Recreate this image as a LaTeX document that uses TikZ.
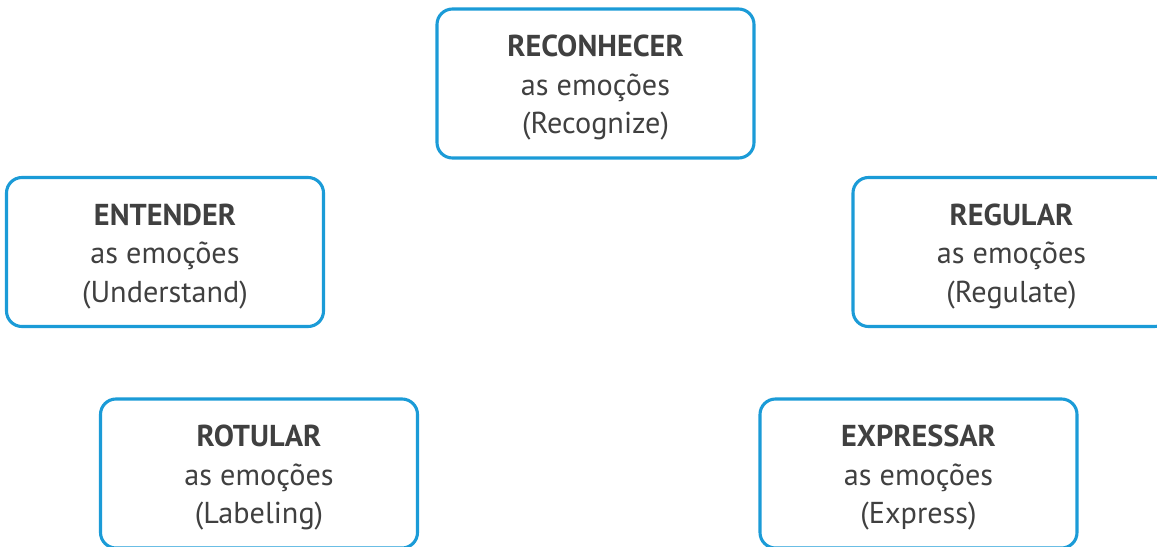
\documentclass[tikz,border=0pt]{standalone}
\usepackage{fontspec}
\setmainfont{PT Sans}
\usepackage{xcolor}
\definecolor{boxblue}{HTML}{1B9BD7}
\definecolor{txtgray}{HTML}{404040}
% bold title line, with a strut so the three lines sit a bit lower in the box
\newcommand{\emohead}[1]{\rule{0pt}{21.5pt}\textbf{#1}}

\begin{document}
\begin{tikzpicture}[
                x=0.025cm, y=-0.025cm,
                emo/.style={draw=boxblue, line width=2.2pt, rounded corners=11pt,
                    minimum width=317*0.025cm, minimum height=149*0.025cm,
                    align=center, text=txtgray, inner sep=0pt,
                    font=\fontsize{21.5}{27.5}\selectfont}
            ]
                \useasboundingbox (0,0) rectangle (1157,546);
                \clip (0,0) rectangle (1157,546);

                \node[emo] (rec) at (595.5,83.5)  {\emohead{RECONHECER}\\as emoções\\(Recognize)};
                \node[emo] (ent) at (165,252)     {\emohead{ENTENDER}\\as emoções\\(Understand)};
                \node[emo] (reg) at (1011.5,252)  {\emohead{REGULAR}\\as emoções\\(Regulate)};
                \node[emo] (rot) at (259,473.5)   {\emohead{ROTULAR}\\as emoções\\(Labeling)};
                \node[emo] (exp) at (918.5,473.5) {\emohead{EXPRESSAR}\\as emoções\\(Express)};
            \end{tikzpicture}
\end{document}
